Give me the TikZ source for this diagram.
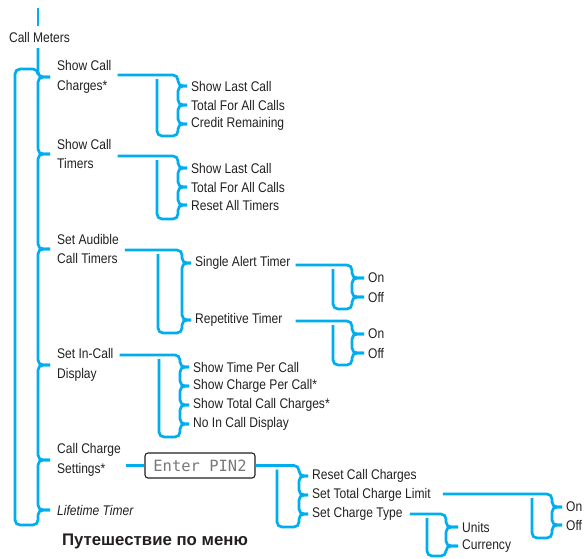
\documentclass[tikz,border=0pt]{standalone}
\usepackage{fontspec}
\setmainfont[FakeStretch=0.86]{Liberation Sans}
\newfontfamily\titlefont{Liberation Sans}
\newfontfamily\lcdfont{DejaVu Sans Mono}
\usetikzlibrary{calc}
\definecolor{menublue}{RGB}{0,174,239}
\definecolor{ink}{RGB}{35,31,32}
\definecolor{lcdgray}{RGB}{120,120,120}
\tikzset{
  menu/.style={draw=menublue, line width=2.7pt, rounded corners=5pt},
  lbl/.style={anchor=west, inner sep=0pt, font=\fontsize{14}{19.5}\selectfont, text=ink, align=left},
  pinbox/.style={draw=ink, line width=1.1pt, rounded corners=3pt, minimum width=110pt, minimum height=25pt, inner sep=0pt, font=\lcdfont\fontsize{15.5}{16}\selectfont, text=lcdgray},
}
% #1 start point, #2 y of horizontal, #3 x of left line, #4 x of right line, #5 child nodes, #6 y of bottom
\newcommand\brloop[6]{%
  \coordinate (bl-s) at (#1);
  \foreach \c [count=\i, remember=\c as \pc] in {#5} {
    \ifnum\i=1
      \draw[menu] (bl-s |- 0,#2) -- (#4,#2) -- (\c.west -| #4,0) -- ([xshift=-4pt]\c.west);
    \else
      \draw[menu] ([xshift=-4pt]\pc.west) -- (\pc.west -| #4,0) -- (\c.west -| #4,0) -- ([xshift=-4pt]\c.west);
    \fi
    \xdef\lastc{\c}
  }
  \draw[menu] ([xshift=-4pt]\lastc.west) -- (\lastc.west -| #4,0) -- (#4,#6) -- (#3,#6) -- (#3,#2+4);
}
\begin{document}
\begin{tikzpicture}[x=1pt,y=-1pt]
\useasboundingbox (0,0) rectangle (584,558);

% main column
\coordinate (top) at (38,8);
\node[lbl, anchor=center] (cm) at (39.5,37) {Call Meters};
\node[lbl] (scc) at (57,77) {Show Call\\Charges*};
\node[lbl] (sct) at (57,154) {Show Call\\Timers};
\node[lbl] (sat) at (57,249) {Set Audible\\Call Timers};
\node[lbl] (sid) at (57,365) {Set In-Call\\Display};
\node[lbl] (ccs) at (57,460) {Call Charge\\Settings*};
\node[lbl, font=\itshape\fontsize{14}{19.5}\selectfont] (lt) at (57,510) {Lifetime Timer};

\draw[menu] (top) -- (top |- 0,26);
\coordinate (mstart) at (38,48);
\draw[menu] (mstart) -- (scc.west -| 38,0) -- ([xshift=-7pt]scc.west);
\foreach \a/\b in {scc/sct, sct/sat, sat/sid, sid/ccs, ccs/lt}
  \draw[menu] ([xshift=-7pt]\a.west) -- (\a.west -| 38,0) -- (\b.west -| 38,0) -- ([xshift=-7pt]\b.west);
\draw[menu] ([xshift=-7pt]lt.west) -- (lt.west -| 38,0) -- (38,525) -- (15,525) -- (15,69) -- (38,69) -- (38,75);

% Show Call Charges
\node[lbl] (a1) at (191,86) {Show Last Call};
\node[lbl] (a2) at (191,105) {Total For All Calls};
\node[lbl] (a3) at (191,124) {Credit Remaining};
\brloop{$(scc.east)+(6,0)$}{75}{157}{178}{a1,a2,a3}{136}

% Show Call Timers
\node[lbl] (b1) at (191,168) {Show Last Call};
\node[lbl] (b2) at (191,187) {Total For All Calls};
\node[lbl] (b3) at (191,205) {Reset All Timers};
\brloop{$(sct.east)+(6,0)$}{156}{157}{178}{b1,b2,b3}{219}

% Set Audible Call Timers
\node[lbl] (c1) at (195,263) {Single Alert Timer};
\node[lbl] (c2) at (195,320) {Repetitive Timer};
\brloop{$(sat.east)+(6,0)$}{250}{158}{182}{c1,c2}{333}

\node[lbl] (c11) at (368,278) {On};
\node[lbl] (c12) at (368,297) {Off};
\brloop{$(c1.east)+(5,0)$}{265}{333}{352}{c11,c12}{309}

\node[lbl] (c21) at (368,334) {On};
\node[lbl] (c22) at (368,353) {Off};
\brloop{$(c1.east |- c2.east)+(5,0)$}{321}{333}{352}{c21,c22}{365}

% Set In-Call Display
\node[lbl] (d1) at (193,367) {Show Time Per Call};
\node[lbl] (d2) at (193,386) {Show Charge Per Call*};
\node[lbl] (d3) at (193,405) {Show Total Call Charges*};
\node[lbl] (d4) at (193,424) {No In Call Display};
\brloop{$(sid.east)+(6,0)$}{355}{159}{180}{d1,d2,d3,d4}{437}

% Call Charge Settings
\node[pinbox] (pin) at (200,465.5) {Enter PIN2};
\draw[menu] ($(ccs.east |- pin.west)+(5,0)$) -- (pin.west);
\node[lbl] (e1) at (312,476) {Reset Call Charges};
\node[lbl] (e2) at (312,495) {Set Total Charge Limit};
\node[lbl] (e3) at (312,514) {Set Charge Type};
\brloop{pin.east}{465.5}{277}{299}{e1,e2,e3}{527}

\node[lbl] (e11) at (566,507) {On};
\node[lbl] (e12) at (566,525) {Off};
\brloop{$(e2.east)+(12,0)$}{494}{532}{552}{e11,e12}{538}

\node[lbl] (e21) at (462,527) {Units};
\node[lbl] (e22) at (462,546) {Currency};
\brloop{$(e3.east)+(7,0)$}{514}{427}{446}{e21,e22}{556}

% title
\node[inner sep=0pt, text=ink, font=\titlefont\bfseries\fontsize{16.8}{19}\selectfont] (title) at (155,541) {Путешествие по меню};
\end{tikzpicture}
\end{document}
